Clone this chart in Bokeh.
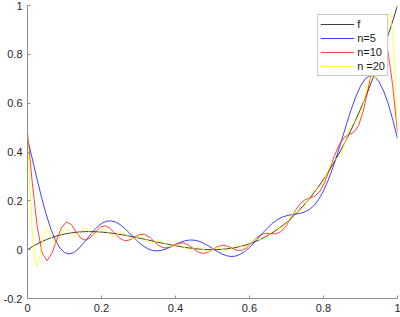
from bokeh.plotting import figure
from bokeh.models import FixedTicker
from bokeh.embed import file_html
from bokeh.resources import INLINE

# ---- data ----
series_labels = ["f", "n=5", "n=10", "n =20"]

x_f = [0, .0128, .0256, .0385, .0513, .0641, .0769, .0897, .1026, .1154, .1282, .1410,
       .1538, .1667, .1795, .1923, .2051, .2179, .2308, .2436, .2564, .2692, .2821, .2949,
       .3077, .3205, .3333, .3462, .3590, .3718, .3846, .3974, .4103, .4231, .4359, .4487,
       .4615, .4744, .4872, .5, .5128, .5256, .5385, .5513, .5641, .5769, .5897, .6026,
       .6154, .6282, .6410, .6538, .6667, .6795, .6923, .7051, .7179, .7308, .7436, .7564,
       .7692, .7821, .7949, .8077, .8205, .8333, .8462, .8590, .8718, .8846, .8974, .9103,
       .9231, .9359, .9487, .9615, .9744, .9872, 1.0]
y_f = [0, .01217, .02308, .03277, .04130, .04872, .05508, .06042, .06480, .06828, .07089, .07269,
       .07374, .07407, .07375, .07283, .07134, .06935, .06691, .06406, .06086, .05735, .05359, .04963,
       .04552, .04130, .03704, .03277, .02856, .02444, .02048, .01672, .01322, .01001, .00716, .00472,
       .00273, .00125, .00032, 0, .00034, .00138, .00319, .00580, .00927, .01365, .01900, .02535,
       .03277, .04130, .05100, .06190, .07407, .08756, .10241, .11868, .13642, .15567, .17649, .19893,
       .22303, .24886, .27645, .30587, .33716, .37037, .40555, .44276, .48204, .52344, .56702, .61282,
       .66090, .71131, .76409, .81930, .87699, .93720, 1.0]

x_n5 = [0, .0125, .025, .0375, .05, .0625, .075, .0875, .1, .1125, .125, .1375, .15, .1625,
        .175, .1875, .2, .2125, .225, .2375, .25, .2625, .275, .2875, .3, .3125, .325, .3375,
        .35, .3625, .375, .3875, .4, .4125, .425, .4375, .45, .4625, .475, .4875, .5, .5125,
        .525, .5375, .55, .5625, .575, .5875, .6, .6125, .625, .6375, .65, .6625, .675, .6875,
        .7, .7125, .725, .7375, .75, .7625, .775, .7875, .8, .8125, .825, .8375, .85, .8625,
        .875, .8875, .9, .9125, .925, .9375, .95, .9625, .975, .9875, 1.0]
y_n5 = [.455, .3750, .294, .2168, .147, .0872, .040, .0072, -.012, -.0175, -.012, .0029, .024, .0472,
        .071, .0913, .107, .1162, .118, .1137, .103, .0873, .069, .0495, .031, .0155, .004, -.0031,
        -.005, -.0027, .003, .0118, .021, .0296, .036, .0395, .039, .0349, .027, .0167, .005, -.0070,
        -.017, -.0247, -.028, -.0262, -.019, -.0071, .009, .0287, .050, .0712, .091, .1086, .123, .1327,
        .139, .1431, .146, .1488, .155, .1650, .182, .2071, .241, .2839, .335, .3922, .453, .5153,
        .575, .6272, .670, .6993, .713, .7095, .688, .6500, .597, .5303, .455]

x_n10 = [0, .0132, .0263, .0395, .0526, .0658, .0789, .0921, .1053, .1184, .1316, .1447, .1579,
         .1711, .1842, .1974, .2105, .2237, .2368, .25, .2632, .2763, .2895, .3026, .3158, .3289,
         .3421, .3553, .3684, .3816, .3947, .4079, .4211, .4342, .4474, .4605, .4737, .4868, .5,
         .5132, .5263, .5395, .5526, .5658, .5789, .5921, .6053, .6184, .6316, .6447, .6579, .6711,
         .6842, .6974, .7105, .7237, .7368, .75, .7632, .7763, .7895, .8026, .8158, .8289, .8421,
         .8553, .8684, .8816, .8947, .9079, .9211, .9342, .9474, .9605, .9737, .9868, 1.0]
y_n10 = [.4787, .2694, .0940, -.0137, -.0449, -.0161, .0402, .0906, .1133, .1029, .0714, .0461, .0387,
         .0509, .0735, .0927, .0978, .0866, .0656, .0458, .0363, .0398, .0513, .0617, .0629, .0523,
         .0341, .0166, .0072, .0087, .0175, .0262, .0278, .0196, .0050, -.0090, -.0155, -.0115, .0000,
         .0122, .0183, .0153, .0061, -.0023, -.0029, .0077, .0268, .0474, .0620, .0672, .0656, .0647,
         .0729, .0941, .1260, .1603, .1881, .2043, .2114, .2188, .2373, .2736, .3254, .3819, .4294,
         .4588, .4715, .4802, .5082, .5687, .6614, .7668, .8504, .8753, .8169, .6757, .4787]

x_n20 = [0, .0064, .0128, .0192, .0256, .0321, .0385, .0449, .0513, .0577, .0641, .0705, .0769,
         .0833, .0897, .0962, .1026, .1154, .1282, .1410, .1538, .1667, .1795, .1923, .2051, .2179,
         .2308, .2436, .2564, .2692, .2821, .2949, .3077, .3205, .3333, .3462, .3590, .3718, .3846,
         .3974, .4103, .4231, .4359, .4487, .4615, .4744, .4872, .5, .5128, .5256, .5385, .5513,
         .5641, .5769, .5897, .6026, .6154, .6282, .6410, .6538, .6667, .6795, .6923, .7051, .7179,
         .7308, .7436, .7564, .7692, .7821, .7949, .8077, .8205, .8333, .8462, .8590, .8718, .8846,
         .8974, .9038, .9103, .9167, .9231, .9295, .9359, .9423, .9487, .9551, .9615, .9679, .9744,
         .9808, .9872, .9936, 1.0]
y_n20 = [.4896, .2640, .0792, -.0328, -.0652, -.0368, .0190, .0681, .0895, .0802, .0545, .0294, .0222,
         .0342, .0579, .0800, .0898, .0683, .0501, .0727, .0913, .0741, .0585, .0728, .0849, .0694,
         .0546, .0641, .0722, .0574, .0431, .0496, .0554, .0413, .0276, .0328, .0376, .0244, .0118,
         .0167, .0217, .0100, -.0012, .0047, .0110, .0013, -.0079, 0, .0085, .0014, -.0050, .0058,
         .0176, .0137, .0105, .0254, .0415, .0413, .0420, .0619, .0835, .0876, .0925, .1187, .1470,
         .1557, .1652, .1989, .2353, .2489, .2629, .3059, .3524, .3704, .3880, .4428, .5029, .5234,
         .5420, .5723, .6153, .6603, .6942, .7084, .7079, .7035, .7151, .7575, .8295, .9109, .9677,
         .9638, .8768, .7092, .4896]

x_ticks = [0, 0.2, 0.4, 0.6, 0.8, 1]
x_tick_labels = ["0", "0.2", "0.4", "0.6", "0.8", "1"]
y_ticks = [-0.2, 0, 0.2, 0.4, 0.6, 0.8, 1]
y_tick_labels = ["-0.2", "0", "0.2", "0.4", "0.6", "0.8", "1"]

# ---- figure ----
p = figure(width=400, height=317, x_range=(0, 1), y_range=(-0.2, 1),
           output_backend="svg", toolbar_location=None,
           min_border_left=26, min_border_right=3, min_border_top=5, min_border_bottom=19)
p.outline_line_color = None
p.xgrid.visible = False
p.ygrid.visible = False
p.background_fill_color = "white"

p.xaxis.ticker = FixedTicker(ticks=x_ticks)
p.xaxis.major_label_overrides = dict(zip(x_ticks, x_tick_labels))
p.yaxis.ticker = FixedTicker(ticks=y_ticks)
p.yaxis.major_label_overrides = dict(zip(y_ticks, y_tick_labels))

for ax in (p.xaxis[0], p.yaxis[0]):
    ax.axis_line_color = "#8f8f8f"
    ax.axis_line_width = 1
    ax.major_tick_line_color = "#8f8f8f"
    ax.major_tick_in = 3
    ax.major_tick_out = 0
    ax.minor_tick_line_color = None
    ax.major_label_text_font = "Liberation Sans"
    ax.major_label_text_font_size = "11px"
    ax.major_label_text_color = "#262626"
p.yaxis.major_label_standoff = 5
p.xaxis.major_label_standoff = 5

colors = ["#000000", "#0000ff", "#ff0000", "#ffff00"]
xs = [x_f, x_n5, x_n10, x_n20]
ys = [y_f, y_n5, y_n10, y_n20]
for xv, yv, c, lab in zip(xs, ys, colors, series_labels):
    p.line(xv, yv, line_color=c, line_width=1, line_alpha=0.75, legend_label=lab)

lg = p.legend[0]
lg.location = "top_right"
lg.margin = 9
lg.padding = 2
lg.spacing = 0
lg.glyph_width = 34
lg.glyph_height = 14
lg.label_height = 14
lg.label_standoff = 3
lg.label_text_font = "Liberation Sans"
lg.label_text_font_size = "11px"
lg.label_text_color = "#1a1a1a"
lg.border_line_color = "#8f8f8f"
lg.border_line_width = 1
lg.background_fill_color = "white"
lg.background_fill_alpha = 1.0

open("out.html", "w").write(file_html(p, INLINE))
